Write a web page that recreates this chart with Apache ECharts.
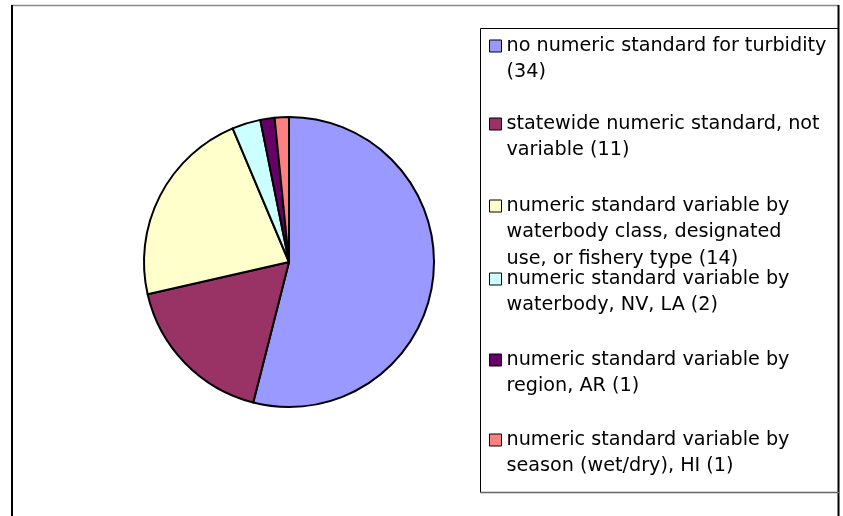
<!DOCTYPE html>
<html>
<head>
<meta charset="utf-8">
<script src="https://cdn.jsdelivr.net/npm/echarts@6/dist/echarts.min.js"></script>
<style>
  html, body { margin: 0; padding: 0; background: #fff; }
  #chart { width: 843px; height: 516px; }
</style>
</head>
<body>
<div id="chart"></div>
<script>
// ---- data ----
var categories = [
  'no numeric standard for turbidity\n',
  'statewide numeric standard, not\nvariable',
  'numeric standard variable by\nwaterbody class, designated\nuse, or fishery type',
  'numeric standard variable by\nwaterbody, NV, LA',
  'numeric standard variable by\nregion, AR',
  'numeric standard variable by\nseason (wet/dry), HI'
];
var counts = [34, 11, 14, 2, 1, 1];
var colors = ['#9999FF', '#993366', '#FFFFCC', '#CCFFFF', '#660066', '#FF8080'];

// ---- layout helpers ----
var LINE_H = 26.5;
var firstLineCenters = [46, 124, 206, 279, 360, 440];

function labelFor(i) {
  var n = categories[i];
  return n + (n.charAt(n.length - 1) === '\n' ? '' : ' ') + '(' + counts[i] + ')';
}
function lineCount(i) { return labelFor(i).split('\n').length; }
// leading blank lines keep the legend icon level with the first text line
function legendText(i) {
  var pad = '';
  for (var k = 1; k < lineCount(i); k++) pad += '\n';
  return pad + labelFor(i);
}

var legends = categories.map(function (name, i) {
  var nLines = lineCount(i);
  return {
    orient: 'vertical',
    left: 489,
    top: firstLineCenters[i] - (2 * nLines - 1) * LINE_H / 2,
    padding: 0,
    itemWidth: 12,
    itemHeight: 12,
    icon: 'rect',
    selectedMode: false,
    data: [name],
    itemStyle: { borderColor: '#000', borderWidth: 1 },
    formatter: function () { return legendText(i); },
    textStyle: {
      fontFamily: 'DejaVu Sans',
      fontSize: 19.2,
      color: '#000',
      lineHeight: LINE_H
    }
  };
});

var chart = echarts.init(document.getElementById('chart'), null, { renderer: 'canvas' });
chart.setOption({
  backgroundColor: '#fff',
  animation: false,
  color: colors,
  graphic: [
    { type: 'line', shape: { x1: 11, y1: 5.5, x2: 839, y2: 5.5 }, style: { stroke: '#888', lineWidth: 1.5 } },
    { type: 'line', shape: { x1: 12, y1: 5, x2: 12, y2: 520 }, style: { stroke: '#000', lineWidth: 2 } },
    { type: 'line', shape: { x1: 838.5, y1: 5, x2: 838.5, y2: 520 }, style: { stroke: '#000', lineWidth: 2 } },
    { type: 'rect', shape: { x: 480.5, y: 28.5, width: 358, height: 464 }, style: { fill: 'none', stroke: '#000', lineWidth: 1 }, z: -1 },
    { type: 'line', shape: { x1: 480, y1: 492.5, x2: 839, y2: 492.5 }, style: { stroke: '#666', lineWidth: 1.5 } }
  ],
  legend: legends,
  series: [{
    type: 'pie',
    center: [289, 262],
    radius: 145,
    startAngle: 90,
    clockwise: true,
    label: { show: false },
    labelLine: { show: false },
    emphasis: { disabled: true },
    itemStyle: { borderColor: '#000', borderWidth: 2 },
    data: categories.map(function (c, i) { return { name: c, value: counts[i] }; })
  }]
});
</script>
</body>
</html>
